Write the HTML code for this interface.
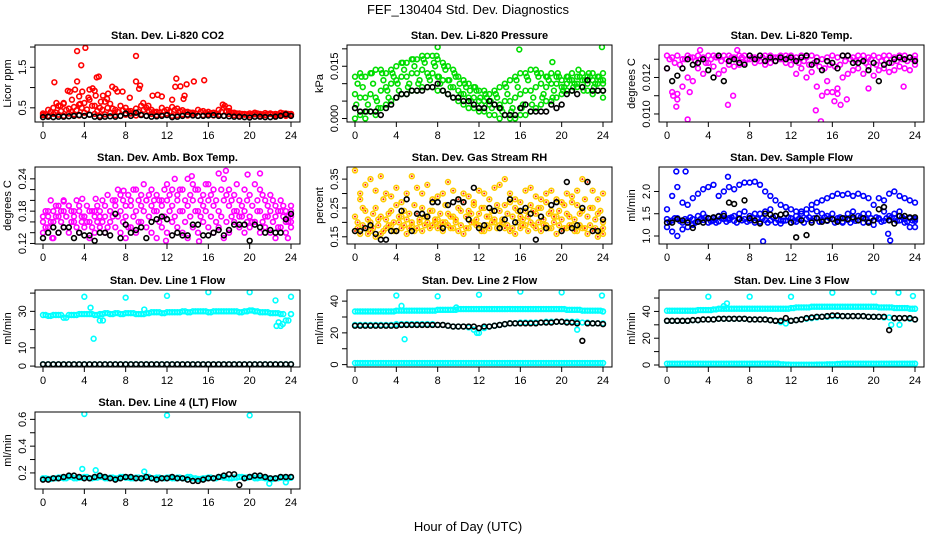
<!DOCTYPE html>
<html><head><meta charset="utf-8">
<style>
html,body{margin:0;padding:0;background:#fff;}
svg{display:block;font-family:"Liberation Sans",Arial,sans-serif;}
</style></head>
<body>
<svg id="chart" width="936" height="540" viewBox="0 0 936 540">
<text x="468" y="14" text-anchor="middle" font-size="13">FEF_130404  Std. Dev. Diagnostics</text>
<text x="468" y="531" text-anchor="middle" font-size="13">Hour of Day (UTC)</text>
</svg>
<script>
// ---- data (hours 0..24, values evenly spaced unless paired with hour arrays) ----
const hourTicks = [0,4,8,12,16,20,24];

const co2Low = [0.32,0.3,0.35,0.33,0.3,0.36,0.34,0.31,0.38,0.33,0.35,0.3,0.34,0.37,0.32,0.3,0.33,0.36,0.31,0.34,0.3,0.35,0.32,0.33,0.36,0.3,0.32,0.34,0.31,0.33,0.3,0.32,0.34,0.31,0.33,0.3,0.35,0.32,0.3,0.33,0.31,0.34,0.3,0.32,0.35,0.31,0.33,0.3,0.34];
const co2Mid = [0.36,0.45,0.5,0.55,0.6,0.48,0.52,0.58,0.62,0.7,0.55,0.5,0.65,0.6,0.45,0.55,0.5,0.42,0.48,0.55,0.5,0.45,0.4,0.5,0.45,0.52,0.48,0.44,0.4,0.38,0.45,0.42,0.4,0.38,0.45,0.5,0.42,0.38,0.36,0.35,0.36,0.38,0.35,0.37,0.36,0.35,0.38,0.36,0.35];
const co2Extra = [0.34,0.4,0.38,0.42,0.45,0.4,0.44,0.5,0.46,0.55,0.42,0.45,0.5,0.48,0.4,0.44,0.42,0.38,0.4,0.45,0.42,0.4,0.38,0.42,0.4,0.45,0.42,0.4,0.38,0.36,0.4,0.38,0.37,0.36,0.4,0.42,0.38,0.36,0.35,0.34,0.35,0.36,0.34,0.35,0.34,0.34,0.36,0.35,0.34];
const co2OutHours = [1.1,1.3,1.7,2.0,2.4,2.6,2.8,3.1,3.3,3.3,3.5,3.6,3.7,3.8,4.1,4.4,4.5,4.8,5,5.1,5.2,5.4,5.6,5.8,6.2,6.3,6.7,7.0,7.2,7.7,8.4,9.0,9.0,9.4,9.3,9.7,10.2,10.6,11.1,11.5,12.5,12.9,12.8,13.3,13.6,13.7,13.9,14.6,15.6,17.4,17.6,18.0];
const co2OutVals = [1.13,0.62,0.55,0.62,0.92,0.9,0.7,0.95,1.9,1.15,0.78,0.6,1.55,0.9,1.98,0.75,0.95,0.98,0.92,0.8,1.25,1.27,0.65,0.8,0.72,0.85,1.02,0.97,0.9,0.9,0.75,1.78,1.15,1.05,0.97,0.62,0.55,0.8,0.82,0.78,0.7,1.22,1.02,1.03,0.72,0.8,1.08,1.15,1.18,0.58,0.55,0.5];
const co2Black = [0.27,0.28,0.27,0.28,0.28,0.29,0.3,0.32,0.3,0.33,0.28,0.27,0.28,0.29,0.28,0.3,0.36,0.3,0.38,0.32,0.3,0.28,0.29,0.3,0.32,0.27,0.28,0.3,0.33,0.31,0.3,0.3,0.31,0.32,0.3,0.3,0.29,0.28,0.28,0.27,0.26,0.28,0.28,0.27,0.27,0.28,0.3,0.34,0.3];

const presUpper = [0.012,0.013,0.012,0.013,0.014,0.014,0.013,0.014,0.015,0.016,0.016,0.017,0.017,0.018,0.018,0.018,0.017,0.016,0.015,0.014,0.012,0.011,0.01,0.009,0.008,0.008,0.007,0.008,0.009,0.01,0.011,0.012,0.013,0.013,0.014,0.014,0.013,0.012,0.013,0.012,0.011,0.012,0.013,0.012,0.013,0.012,0.013,0.012,0.013];
const presLower = [0.0,0.001,0.0,0.002,0.001,0.003,0.004,0.005,0.006,0.007,0.007,0.008,0.008,0.009,0.009,0.009,0.008,0.008,0.007,0.006,0.005,0.004,0.003,0.003,0.002,0.002,0.001,0.001,0.0,0.001,0.0,0.0,0.001,0.001,0.002,0.003,0.004,0.005,0.005,0.006,0.007,0.008,0.008,0.009,0.009,0.008,0.007,0.008,0.008];
const presMid = [0.007,0.006,0.006,0.007,0.006,0.008,0.009,0.01,0.011,0.012,0.012,0.013,0.013,0.014,0.013,0.013,0.012,0.011,0.011,0.009,0.008,0.007,0.006,0.006,0.005,0.005,0.004,0.004,0.004,0.005,0.005,0.006,0.007,0.008,0.008,0.009,0.01,0.009,0.01,0.01,0.009,0.01,0.011,0.01,0.011,0.01,0.011,0.01,0.011];
const presExtraA = [0.01,0.009,0.004,0.01,0.003,0.011,0.006,0.012,0.008,0.014,0.01,0.015,0.011,0.016,0.011,0.015,0.01,0.014,0.009,0.012,0.007,0.009,0.005,0.008,0.004,0.006,0.003,0.006,0.002,0.007,0.003,0.009,0.004,0.011,0.006,0.012,0.007,0.011,0.008,0.012,0.009,0.011,0.01,0.012,0.011,0.012,0.01,0.011,0.01];
const presExtraB = [0.004,0.012,0.002,0.013,0.005,0.013,0.008,0.013,0.01,0.016,0.009,0.017,0.01,0.017,0.012,0.016,0.012,0.015,0.011,0.013,0.01,0.01,0.008,0.009,0.006,0.007,0.005,0.007,0.003,0.009,0.002,0.011,0.003,0.012,0.004,0.013,0.006,0.012,0.006,0.013,0.008,0.012,0.009,0.014,0.008,0.013,0.009,0.012,0.006];
const presOutHours = [8,15.9,23.9,19.1,7.9];
const presOutVals = [0.0205,0.0198,0.0205,0.0162,0.018];
const presBlack = [0.003,0.002,0.002,0.002,0.002,0.001,0.003,0.004,0.006,0.007,0.007,0.008,0.008,0.008,0.009,0.009,0.01,0.008,0.007,0.006,0.006,0.005,0.005,0.004,0.003,0.003,0.005,0.004,0.003,0.001,0.001,0.001,0.003,0.004,0.002,0.002,0.002,0.002,0.004,0.003,0.004,0.007,0.008,0.007,0.009,0.011,0.008,0.008,0.008];

const tempTop = [0.0132,0.0131,0.0132,0.013,0.0132,0.0131,0.0132,0.0131,0.0132,0.0132,0.0131,0.0132,0.0132,0.0131,0.0132,0.0132,0.0132,0.0131,0.0132,0.0132,0.0132,0.0131,0.0132,0.0132,0.0132,0.0131,0.0132,0.0131,0.0132,0.0131,0.013,0.0131,0.0132,0.0131,0.0132,0.0132,0.0131,0.0132,0.0132,0.0131,0.0132,0.0131,0.0132,0.0132,0.0131,0.0132,0.0132,0.0131,0.0132];
const tempExtra = [0.013,0.0128,0.0127,0.013,0.0131,0.0129,0.013,0.0128,0.013,0.0131,0.0129,0.013,0.0131,0.013,0.0131,0.013,0.0131,0.013,0.0131,0.013,0.0131,0.0131,0.013,0.0131,0.013,0.0128,0.0129,0.0127,0.0128,0.0126,0.0125,0.0127,0.0126,0.0127,0.0129,0.013,0.0129,0.013,0.0128,0.013,0.0127,0.0129,0.013,0.0128,0.0129,0.013,0.0129,0.013,0.013];
const tempLow = [0.0125,0.0112,0.0108,0.0115,0.012,0.0118,0.0125,0.0122,0.0128,0.0126,0.0122,0.0124,0.0127,0.0126,0.0127,0.0128,0.013,0.0128,0.0129,0.0127,0.0128,0.0129,0.013,0.0128,0.0127,0.0122,0.0125,0.012,0.0123,0.0115,0.011,0.0118,0.0112,0.0114,0.012,0.0122,0.0124,0.0125,0.0122,0.0126,0.0121,0.0124,0.0125,0.0123,0.0124,0.0126,0.0125,0.0124,0.0127];
const tempOutHours = [0.9,2.0,3.2,5.9,6.8,6.4,14.4,14.9,16.2,16.8,17.4,0.6,1.0,2.2,15.5,16.5,19.5,22.9];
const tempOutVals = [0.0104,0.0097,0.0135,0.0105,0.0135,0.011,0.0102,0.0096,0.0107,0.0105,0.0108,0.011,0.0111,0.0112,0.0112,0.0111,0.0114,0.0115];
const tempBlack = [0.0125,0.0118,0.0121,0.0125,0.013,0.0127,0.0128,0.013,0.0124,0.012,0.0132,0.0118,0.0129,0.013,0.0128,0.0127,0.0132,0.013,0.0132,0.0129,0.0131,0.0129,0.0131,0.013,0.0131,0.0129,0.0131,0.0132,0.0127,0.0129,0.0124,0.0129,0.0128,0.0125,0.0132,0.0132,0.0128,0.0128,0.0129,0.0124,0.0128,0.0118,0.0127,0.0128,0.013,0.0131,0.013,0.0131,0.0129];

const ambLow = [0.14,0.15,0.13,0.14,0.15,0.14,0.16,0.14,0.15,0.13,0.14,0.15,0.14,0.16,0.15,0.14,0.13,0.15,0.14,0.16,0.15,0.14,0.13,0.15,0.14,0.16,0.15,0.14,0.13,0.15,0.14,0.16,0.15,0.14,0.15,0.13,0.14,0.16,0.15,0.14,0.15,0.16,0.14,0.15,0.14,0.13,0.15,0.14,0.15];
const ambMid = [0.17,0.18,0.16,0.17,0.18,0.19,0.17,0.18,0.17,0.16,0.18,0.17,0.17,0.18,0.19,0.18,0.17,0.19,0.18,0.19,0.2,0.19,0.18,0.19,0.2,0.19,0.2,0.18,0.19,0.2,0.18,0.19,0.2,0.19,0.18,0.2,0.19,0.18,0.17,0.18,0.17,0.16,0.18,0.17,0.18,0.17,0.18,0.16,0.17];
const ambHigh = [0.16,0.17,0.18,0.19,0.2,0.19,0.18,0.19,0.17,0.18,0.17,0.18,0.19,0.18,0.2,0.21,0.19,0.2,0.22,0.21,0.2,0.22,0.21,0.2,0.23,0.22,0.21,0.22,0.24,0.23,0.22,0.21,0.23,0.22,0.25,0.24,0.22,0.21,0.2,0.22,0.21,0.23,0.22,0.2,0.21,0.19,0.2,0.18,0.19];
const ambExtraA = [0.15,0.16,0.17,0.16,0.17,0.16,0.15,0.17,0.16,0.15,0.16,0.16,0.15,0.17,0.17,0.16,0.15,0.17,0.16,0.18,0.17,0.18,0.16,0.17,0.18,0.17,0.18,0.16,0.17,0.18,0.17,0.18,0.17,0.16,0.17,0.16,0.17,0.18,0.17,0.16,0.16,0.18,0.16,0.17,0.16,0.15,0.17,0.16,0.16];
const ambExtraB = [0.18,0.2,0.19,0.18,0.17,0.18,0.2,0.16,0.19,0.18,0.19,0.2,0.21,0.2,0.22,0.2,0.21,0.22,0.2,0.23,0.21,0.2,0.2,0.22,0.21,0.24,0.22,0.2,0.21,0.22,0.2,0.23,0.21,0.2,0.22,0.21,0.2,0.23,0.19,0.2,0.19,0.2,0.21,0.19,0.2,0.18,0.19,0.17,0.18];
const ambOutHours = [3.8,5.1,2.0,7.8,14.4,17.7,21,19.8,11.9,15.1,23.7,0.9];
const ambOutVals = [0.203,0.203,0.198,0.218,0.245,0.255,0.25,0.248,0.125,0.124,0.13,0.13];
const ambBlack = [0.13,0.14,0.15,0.14,0.15,0.15,0.13,0.14,0.135,0.135,0.125,0.14,0.14,0.135,0.175,0.13,0.155,0.14,0.145,0.15,0.13,0.16,0.165,0.17,0.165,0.135,0.14,0.135,0.135,0.155,0.155,0.135,0.135,0.14,0.145,0.135,0.145,0.155,0.155,0.155,0.125,0.155,0.15,0.14,0.145,0.14,0.14,0.165,0.175];

const rhLow = [0.17,0.16,0.18,0.17,0.15,0.16,0.18,0.19,0.17,0.18,0.16,0.19,0.18,0.17,0.2,0.19,0.18,0.17,0.19,0.18,0.17,0.16,0.18,0.2,0.19,0.17,0.18,0.2,0.19,0.18,0.17,0.16,0.18,0.19,0.2,0.18,0.17,0.19,0.18,0.16,0.17,0.18,0.19,0.17,0.18,0.16,0.17,0.15,0.16];
const rhMid = [0.22,0.28,0.24,0.2,0.25,0.22,0.21,0.24,0.26,0.22,0.21,0.2,0.23,0.25,0.22,0.24,0.21,0.2,0.23,0.22,0.25,0.27,0.24,0.26,0.23,0.25,0.22,0.21,0.24,0.26,0.27,0.25,0.22,0.24,0.26,0.23,0.25,0.27,0.24,0.22,0.21,0.23,0.27,0.26,0.24,0.22,0.25,0.23,0.21];
const rhHigh = [0.38,0.3,0.33,0.35,0.31,0.36,0.3,0.29,0.32,0.27,0.3,0.36,0.32,0.3,0.33,0.28,0.29,0.3,0.34,0.31,0.28,0.3,0.29,0.27,0.31,0.3,0.28,0.32,0.33,0.35,0.3,0.28,0.27,0.31,0.32,0.29,0.28,0.3,0.31,0.28,0.27,0.3,0.29,0.31,0.35,0.34,0.31,0.28,0.3];
const rhExtraA = [0.18,0.19,0.16,0.18,0.19,0.17,0.19,0.17,0.2,0.19,0.18,0.17,0.2,0.19,0.18,0.2,0.19,0.2,0.18,0.2,0.19,0.18,0.2,0.19,0.17,0.19,0.2,0.18,0.2,0.19,0.18,0.2,0.19,0.17,0.19,0.2,0.19,0.18,0.2,0.19,0.18,0.19,0.17,0.19,0.18,0.19,0.18,0.17,0.18];
const rhExtraB = [0.2,0.25,0.21,0.23,0.21,0.28,0.23,0.2,0.22,0.24,0.23,0.26,0.21,0.22,0.24,0.21,0.23,0.26,0.22,0.21,0.24,0.22,0.23,0.21,0.25,0.22,0.24,0.26,0.21,0.23,0.22,0.24,0.21,0.22,0.24,0.25,0.21,0.23,0.22,0.24,0.26,0.22,0.21,0.23,0.28,0.25,0.21,0.24,0.2];
const rhBlack = [0.17,0.17,0.18,0.19,0.16,0.14,0.14,0.17,0.17,0.24,0.28,0.17,0.23,0.23,0.22,0.27,0.27,0.18,0.26,0.27,0.28,0.27,0.21,0.32,0.18,0.19,0.25,0.24,0.18,0.21,0.28,0.2,0.24,0.25,0.23,0.14,0.22,0.18,0.26,0.27,0.17,0.34,0.18,0.19,0.25,0.34,0.17,0.17,0.21];

const flowBand = [1.38,1.35,1.4,1.3,1.35,1.38,1.32,1.36,1.4,1.35,1.33,1.38,1.36,1.34,1.4,1.38,1.35,1.3,1.32,1.36,1.35,1.3,1.28,1.35,1.4,1.32,1.36,1.38,1.35,1.4,1.36,1.34,1.38,1.35,1.32,1.36,1.38,1.35,1.3,1.33,1.35,1.38,1.34,1.36,1.4,1.35,1.38,1.4,1.38];
const flowBand2 = [1.32,1.4,1.34,1.38,1.42,1.3,1.38,1.42,1.33,1.3,1.4,1.32,1.42,1.3,1.35,1.32,1.42,1.38,1.4,1.3,1.42,1.36,1.34,1.42,1.33,1.38,1.3,1.42,1.4,1.32,1.42,1.4,1.3,1.42,1.4,1.3,1.34,1.42,1.38,1.4,1.42,1.32,1.4,1.42,1.34,1.42,1.32,1.35,1.34];
const flowUpper = [1.6,1.9,2.1,1.75,1.7,1.85,1.95,2.05,2.1,2.15,1.9,2.0,2.1,2.05,2.15,2.2,2.2,2.22,2.15,2.0,1.9,1.8,1.7,1.65,1.6,1.55,1.5,1.6,1.7,1.75,1.8,1.85,1.9,1.95,1.92,1.95,1.9,1.95,1.9,1.85,1.7,1.85,1.8,1.95,2.0,1.9,1.85,1.8,1.75];
const flowMid = [1.2,1.1,1.0,1.15,1.2,1.25,1.45,1.5,1.3,1.4,1.45,1.5,1.4,1.45,1.5,1.55,1.45,1.5,1.5,1.55,1.6,1.45,1.35,1.5,1.3,1.45,1.55,1.5,1.6,1.55,1.5,1.45,1.5,1.4,1.3,1.5,1.55,1.45,1.5,1.5,1.25,1.4,1.55,1.45,1.5,1.55,1.3,1.2,1.2];
const flowOutHours = [0.9,1.8,5.9,9.3,21.6,21.4];
const flowOutVals = [2.45,2.45,2.33,0.88,0.9,1.05];
const flowBlack = [1.3,1.3,1.38,1.35,1.3,1.18,1.32,1.3,1.4,1.42,1.44,1.45,1.75,1.72,1.38,1.8,1.4,1.35,1.28,1.5,1.48,1.45,1.48,1.5,1.3,0.97,1.35,1.02,1.3,1.4,1.32,1.35,1.38,1.32,1.4,1.38,1.42,1.35,1.4,1.3,1.35,1.6,1.65,1.35,1.28,1.45,1.45,1.42,1.42];

const line1Top = [28,27.5,28,28,26.5,28,28,28.5,28.5,28.5,28,28.5,29,28.5,29,28.5,29,29,28.5,28.5,29,29.5,29.5,29,29.5,29.5,29.5,30,29.5,30,30,30,29.5,30,30,30,30,30,29.5,30,30.5,30,29.5,29.5,29,29,28.5,25,28.5];
const line1Low = [1,1,1,1,1,1,1,1,1,1,1,1,1,1,1,1,1,1,1,1,1,1,1,1,1,1,1,1,1,1,1,1,1,1,1,1,1,1,1,1,1,1,1,1,1,1,1,1,1];
const line1OutHours = [4,4.6,4.9,5.5,5.8,8,9.8,12,16,20,22.5,22.6,22.8,23,23.2,24];
const line1OutVals = [38,32,15,25,25,37.5,31,38.5,40.5,40.5,36,22,24,22,23,38];
const line1Black = [1,1,1,1,1,1,1,1,1,1,1,1,1,1,1,1,1,1,1,1,1,1,1,1,1,1,1,1,1,1,1,1,1,1,1,1,1,1,1,1,1,1,1,1,1,1,1,1,1];

const line2Top = [33.5,33.5,33.5,33.5,33.5,33.5,33.5,33.5,34,34,34,34,34,34,34,34,34.5,34.5,34.5,34.5,35,35,35,35,35,35,35,35,35,35,35,35,35,35,35,35,35,35,35,35,35,34.5,34.5,34.5,34,34,34,34,33.5];
const line2Mid = [25,25,25,25,25,25,25,25,25.5,25.5,25.5,25.5,25.5,25.5,25.5,25.5,25,25,24.5,24,24,24,23.5,22,20,23,24,24.5,25,25.5,26,26,26.5,26.5,26.5,26.5,26.5,27,27,27,27,27,27,27,26.5,26.5,26,26,26];
const line2Low = [1,1,1,1,1,1,1,1,1,1,1,1,1,1,1,1,1,1,1,1,1,1,1,1,1,1,1,1,1,1,1,1,1,1,1,1,1,1,1,1,1,1,1,1,1,1,1,1,1];
const line2OutHours = [4,4.5,4.8,8,9.8,12,16,20,21.5,23.9,11.8];
const line2OutVals = [43.5,37,16,43,36,44,46,45.5,22,43.5,20];
const line2Black = [24.5,24.5,24.5,24.5,24.5,24.5,24.5,24.5,24.5,25,25,25,25,25,25,25,25,25,24.5,24,24,24,24,24,23,24,24,24.5,25,25.5,26,26,26,26,26,26,26.5,26.5,26.5,27,27,26.5,26.5,26,15,26,26,26,25.5];

const line3Top = [40.5,40.5,40.5,40.5,40.5,40.5,41,41,41,41.5,42,42,42,42,42,42,42,42,42,42,42,42,42,42,42.5,43,43,43,43.5,43.5,43.5,43.5,43.5,43.5,43.5,43.5,43.5,43.5,43.5,43.5,43.5,43,43,43,42.5,42.5,42.5,42,42];
const line3Mid = [33,33,33,33,33,33.5,33.5,34,34,34,34.5,34.5,34.5,34.5,34.5,34.5,34,34,34,34,33.5,33,32,31,33,33.5,34,34.5,35,35.5,36,36,36.5,36.5,36.5,36.5,36.5,36.5,36.5,36,36,36,35.5,35.5,35,35,35,34.5,34];
const line3Low = [1,1,1,1,1,1,1,1,1,1,1,1,1,1,1,1,1,1,1,1,1,1,0.5,0.3,0.2,0.2,0.2,0.2,0.2,0.3,0.3,0.5,0.5,0.8,1,1,1,1,1,1,1,1,1,1,1,1,1,1,1];
const line3OutHours = [4,5.5,5.8,8,12,16,20,22.4,23.8,21.7,22.5];
const line3OutVals = [51,44,46,51,51,54,54.5,54,51.5,30,30];
const line3Black = [33,33,33,33,33,33.5,33.5,34,34,34,34.5,34.5,34.5,34.5,34.5,34.5,34,34,34,34,33.5,33,33,35,33,33.5,34,35,35.5,36,36,36.5,37,37,36.5,36.5,36.5,36.5,36.5,36,36,36,36,26,35,35,35,35,34];

const line4Band = [0.16,0.155,0.16,0.165,0.16,0.17,0.16,0.165,0.17,0.16,0.165,0.17,0.16,0.165,0.16,0.17,0.165,0.16,0.165,0.16,0.17,0.16,0.165,0.16,0.165,0.16,0.165,0.16,0.17,0.16,0.155,0.16,0.165,0.16,0.17,0.165,0.16,0.165,0.17,0.165,0.17,0.16,0.165,0.16,0.155,0.16,0.165,0.16,0.165];
const line4OutHours = [4,12,20,3.8,5.1,9.8,21.9,23.5];
const line4OutVals = [0.64,0.63,0.63,0.23,0.22,0.21,0.12,0.13];
const line4Black = [0.15,0.15,0.16,0.16,0.17,0.18,0.18,0.17,0.16,0.16,0.17,0.18,0.17,0.16,0.15,0.16,0.17,0.17,0.16,0.16,0.17,0.16,0.15,0.16,0.16,0.17,0.16,0.16,0.15,0.14,0.14,0.15,0.16,0.16,0.17,0.18,0.19,0.19,0.11,0.16,0.17,0.18,0.18,0.17,0.16,0.16,0.17,0.17,0.17];

// ---- drawing ----
const NS = 'http://www.w3.org/2000/svg';
const svg = document.getElementById('chart');
function el(tag, attrs, parent){
  const e = document.createElementNS(NS, tag);
  for (const k in attrs) e.setAttribute(k, attrs[k]);
  (parent||svg).appendChild(e);
  return e;
}
const BOX_H = 77;
const panels = [
  {key:'co2', title:'Stan. Dev. Li-820 CO2', ylab:'Licor ppm', col:0, top:45, ymin:0.15, ymax:2.05, ticks:[0.5,1,1.5,2], labels:[[0.5,'0.5'],[1.5,'1.5']],
   series:[{v:co2Low,c:'#ff0000'},{v:co2Extra,c:'#ff0000',off:0.5},{v:co2Mid,c:'#ff0000'},{h:co2OutHours,v:co2OutVals,c:'#ff0000'},{v:co2Black,c:'#000'}]},
  {key:'pressure', title:'Stan. Dev. Li-820 Pressure', ylab:'kPa', col:1, top:45, ymin:-0.001, ymax:0.0211, ticks:[0,0.005,0.01,0.015,0.02], labels:[[0,'0.000'],[0.015,'0.015']],
   series:[{v:presUpper,c:'#00dd00'},{v:presMid,c:'#00dd00'},{v:presLower,c:'#00dd00'},{v:presExtraA,c:'#00dd00',off:0.5},{v:presExtraB,c:'#00dd00',off:0.25},{h:presOutHours,v:presOutVals,c:'#00dd00'},{v:presBlack,c:'#000'}]},
  {key:'temp', title:'Stan. Dev. Li-820 Temp.', ylab:'degrees C', col:2, top:45, ymin:0.00956, ymax:0.01378, ticks:[0.010,0.011,0.012,0.013], labels:[[0.010,'0.010'],[0.012,'0.012']],
   series:[{v:tempTop,c:'#ff00ff'},{v:tempExtra,c:'#ff00ff',off:0.5},{v:tempLow,c:'#ff00ff'},{h:tempOutHours,v:tempOutVals,c:'#ff00ff'},{v:tempBlack,c:'#000'}]},
  {key:'ambtemp', title:'Stan. Dev. Amb. Box Temp.', ylab:'degrees C', col:0, top:167, ymin:0.119, ymax:0.262, ticks:[0.12,0.14,0.16,0.18,0.2,0.22,0.24], labels:[[0.12,'0.12'],[0.18,'0.18'],[0.24,'0.24']],
   series:[{v:ambLow,c:'#ff00ff'},{v:ambMid,c:'#ff00ff'},{v:ambHigh,c:'#ff00ff'},{v:ambExtraA,c:'#ff00ff',off:0.5},{v:ambExtraB,c:'#ff00ff',off:0.5},{h:ambOutHours,v:ambOutVals,c:'#ff00ff'},{v:ambBlack,c:'#000'}]},
  {key:'rh', title:'Stan. Dev. Gas Stream RH', ylab:'percent', col:1, top:167, ymin:0.125, ymax:0.392, ticks:[0.15,0.2,0.25,0.3,0.35], labels:[[0.15,'0.15'],[0.25,'0.25'],[0.35,'0.35']],
   series:[{v:rhLow,c:'#ffcc00',inner:'#ff2200'},{v:rhExtraA,c:'#ffcc00',inner:'#ff2200',off:0.5},{v:rhMid,c:'#ffcc00',inner:'#ff2200'},{v:rhExtraB,c:'#ffcc00',inner:'#ff2200',off:0.5},{v:rhHigh,c:'#ffcc00',inner:'#ff2200'},{v:rhBlack,c:'#000'}]},
  {key:'sampleflow', title:'Stan. Dev. Sample Flow', ylab:'ml/min', col:2, top:167, ymin:0.82, ymax:2.55, ticks:[1,1.5,2], labels:[[1,'1.0'],[1.5,'1.5'],[2,'2.0']],
   series:[{v:flowUpper,c:'#0000ff'},{v:flowMid,c:'#0000ff'},{v:flowBand,c:'#0000ff'},{v:flowBand2,c:'#0000ff',off:0.5},{h:flowOutHours,v:flowOutVals,c:'#0000ff'},{v:flowBlack,c:'#000'}]},
  {key:'line1', title:'Stan. Dev. Line 1 Flow', ylab:'ml/min', col:0, top:290, ymin:-0.5, ymax:41.7, ticks:[0,10,20,30,40], labels:[[0,'0'],[10,'10'],[30,'30']],
   series:[{v:line1Top,c:'#00ffff'},{v:line1Top,c:'#00ffff',off:0.5},{v:line1Low,c:'#00ffff'},{h:line1OutHours,v:line1OutVals,c:'#00ffff'},{v:line1Black,c:'#000'}]},
  {key:'line2', title:'Stan. Dev. Line 2 Flow', ylab:'ml/min', col:1, top:290, ymin:-1.5, ymax:47, ticks:[0,10,20,30,40], labels:[[0,'0'],[20,'20'],[40,'40']],
   series:[{v:line2Top,c:'#00ffff'},{v:line2Top,c:'#00ffff',off:0.5},{v:line2Mid,c:'#00ffff'},{v:line2Low,c:'#00ffff'},{v:line2Low,c:'#00ffff',off:0.5},{h:line2OutHours,v:line2OutVals,c:'#00ffff'},{v:line2Black,c:'#000'}]},
  {key:'line3', title:'Stan. Dev. Line 3 Flow', ylab:'ml/min', col:2, top:290, ymin:-1.5, ymax:56, ticks:[0,10,20,30,40,50], labels:[[0,'0'],[20,'20'],[40,'40']],
   series:[{v:line3Top,c:'#00ffff'},{v:line3Top,c:'#00ffff',off:0.5},{v:line3Mid,c:'#00ffff'},{v:line3Low,c:'#00ffff'},{v:line3Low,c:'#00ffff',off:0.5},{h:line3OutHours,v:line3OutVals,c:'#00ffff'},{v:line3Black,c:'#000'}]},
  {key:'line4', title:'Stan. Dev. Line 4 (LT) Flow', ylab:'ml/min', col:0, top:412, ymin:0.08, ymax:0.655, ticks:[0.2,0.3,0.4,0.5,0.6], labels:[[0.2,'0.2'],[0.4,'0.4'],[0.6,'0.6']],
   series:[{v:line4Band,c:'#00ffff'},{v:line4Band,c:'#00ffff',off:0.5},{h:line4OutHours,v:line4OutVals,c:'#00ffff'},{v:line4Black,c:'#000'}]}
];

panels.forEach(p => {
  const cx = p.col * 312;
  const left = cx + 35, right = cx + 300, top = p.top, bottom = p.top + BOX_H;
  const sx = h => cx + 43 + h * (248 / 24);
  const sy = v => top + (p.ymax - v) / (p.ymax - p.ymin) * BOX_H;
  const g = el('g', {});
  
  
  const t = el('text', {x:(left+right)/2, y:top-6, 'text-anchor':'middle', 'font-size':11, 'font-weight':'bold'}, g);
  t.textContent = p.title;
  
  
  const clip = el('clipPath', {id:'clip-'+p.key}, g);
  el('rect', {x:left, y:top, width:right-left, height:BOX_H}, clip);
  const pts = el('g', {'clip-path':'url(#clip-'+p.key+')'}, g);
  
  
  p.series.forEach(s => {
    const step = 24 / (s.v.length - 1);
    s.v.forEach((val, i) => {
      const hr = s.h ? s.h[i] : Math.min(24, (i + (s.off || 0)) * step);
      const c = el('circle', {cx:sx(hr), cy:sy(val), r:2.4, fill:'none', stroke:s.c, 'stroke-width':1.6}, pts);
      
      
      if (s.inner) el('circle', {cx:sx(hr), cy:sy(val), r:1, fill:s.inner}, pts);
    });
  });
  const box = el('rect', {x:left, y:top, width:right-left, height:BOX_H, fill:'none', stroke:'#000', 'stroke-width':1}, g);
  
  
  const xa = el('g', {}, g);
  
  
  el('line', {x1:sx(0), x2:sx(24), y1:bottom, y2:bottom, stroke:'#000'}, xa);
  hourTicks.forEach(h => {
    el('line', {x1:sx(h), x2:sx(h), y1:bottom, y2:bottom+5, stroke:'#000'}, xa);
    const tx = el('text', {x:sx(h), y:bottom+17, 'text-anchor':'middle', 'font-size':11}, xa);
    tx.textContent = h;
  });
  const ya = el('g', {}, g);
  
  
  el('line', {x1:left, x2:left, y1:sy(p.ticks[0]), y2:sy(p.ticks[p.ticks.length-1]), stroke:'#000'}, ya);
  p.ticks.forEach(v => el('line', {x1:left-5, x2:left, y1:sy(v), y2:sy(v), stroke:'#000'}, ya));
  p.labels.forEach(([v, txt]) => {
    const tx = el('text', {x:0, y:0, 'text-anchor':'middle', 'font-size':11, transform:`translate(${left-9},${sy(v)}) rotate(-90)`}, ya);
    tx.textContent = txt;
  });
  const yl = el('text', {x:0, y:0, 'text-anchor':'middle', 'font-size':11, transform:`translate(${cx+11},${(top+bottom)/2}) rotate(-90)`}, ya);
  yl.textContent = p.ylab;
  
  
});
</script>
</body></html>
